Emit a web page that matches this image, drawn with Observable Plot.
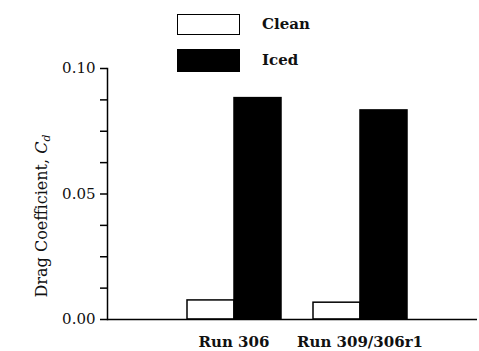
<!DOCTYPE html>
<html>
<head>
<meta charset="utf-8">
<script src="https://cdn.jsdelivr.net/npm/d3@7"></script>
<script src="https://cdn.jsdelivr.net/npm/@observablehq/plot@0.6"></script>
<style>
  html, body { margin: 0; padding: 0; background: #fff; }
  #wrap { position: relative; width: 479px; height: 351px; font-family: "DejaVu Serif", serif; }
  #base, #bars { position: absolute; left: 0; top: 0; }
  #legend { position: absolute; left: 177px; top: 12px; }
  .item { display: flex; align-items: center; height: 24px; margin-bottom: 12px; }
  .sw { width: 63px; height: 21px; box-sizing: border-box; }
  .lab { margin-left: 22px; font-size: 15px; font-weight: bold; color: #111; }
</style>
</head>
<body>
<div id="wrap">
  <div id="bars"></div>
  <div id="base"></div>
  <div id="legend"></div>
</div>
<script>
const runs = ["Run 306", "Run 309/306r1"];
const series = ["Clean", "Iced"];
const cleanValues = [0.0076, 0.0067];
const icedValues = [0.0882, 0.0833];
const yTicks = [0, 0.0125, 0.025, 0.0375, 0.05, 0.0625, 0.075, 0.0875, 0.1];
const yTickLabels = [0, 0.05, 0.1];
const seriesFill = { Clean: "#fff", Iced: "#000" };

const data = [];
runs.forEach((r, i) => {
  data.push({ run: r, series: "Clean", value: cleanValues[i] });
  data.push({ run: r, series: "Iced", value: icedValues[i] });
});

const common = {
  width: 479,
  height: 351,
  marginTop: 68,
  marginBottom: 32,
  marginLeft: 107,
  marginRight: 2,
  style: { fontFamily: "DejaVu Serif, serif", fontSize: "15px", color: "#111", background: "transparent", overflow: "visible" }
};
const runBand = { type: "band", domain: runs, paddingInner: 0.249, paddingOuter: 0.587, align: 0.532 };

// bar layer (underneath): grouped bars via facets on the run band
const bars = Plot.plot({
  ...common,
  fx: { ...runBand, axis: null, label: null },
  x: { domain: series, padding: 0, axis: null },
  y: { domain: [0, 0.1], axis: null },
  marks: [
    Plot.barY(data, {
      fx: "run", x: "series", y: "value",
      fill: d => seriesFill[d.series], stroke: "#000", strokeWidth: 1.5
    })
  ]
});
document.getElementById("bars").appendChild(bars);

// axes layer on top: y axis with minor ticks, run labels, baseline
const base = Plot.plot({
  ...common,
  x: { ...runBand, label: null },
  y: { domain: [0, 0.1] },
  marks: [
    Plot.axisY(yTicks, {
      tickSize: 7,
      tickPadding: 5,
      stroke: "black",
      strokeWidth: 1.5,
      tickFormat: d => yTickLabels.includes(d) ? d.toFixed(2) : "",
      label: "Drag Coefficient, Cd",
      labelAnchor: "center",
      labelArrow: "none",
      labelOffset: 72
    }),
    Plot.axisX({ anchor: "bottom", tickSize: 0, tickPadding: 17, label: null, fontWeight: "bold", fontSize: 15 }),
    Plot.frame({ anchor: "left", stroke: "#000", strokeWidth: 1.5 }),
    Plot.ruleY([0], { stroke: "#000", strokeWidth: 1.5 })
  ]
});
document.getElementById("base").appendChild(base);

// italic C with subscript d in the y label
d3.select(base).selectAll("text").each(function () {
  const t = d3.select(this);
  if (t.text().startsWith("Drag Coefficient")) {
    t.text("Drag Coefficient, ").attr("font-size", "16px").attr("dx", "-22");
    t.append("tspan").attr("font-style", "italic").text("C");
    t.append("tspan").attr("font-style", "italic").attr("font-size", "11px").attr("dy", "0.3em").text("d");
  }
});

// legend
const legend = d3.select("#legend");
series.forEach(s => {
  const item = legend.append("div").attr("class", "item");
  item.append("div").attr("class", "sw")
    .style("background", seriesFill[s])
    .style("border", "1.5px solid #000")
    .style("height", s === "Iced" ? "23px" : "21px");
  item.append("div").attr("class", "lab").text(s);
});
</script>
</body>
</html>
